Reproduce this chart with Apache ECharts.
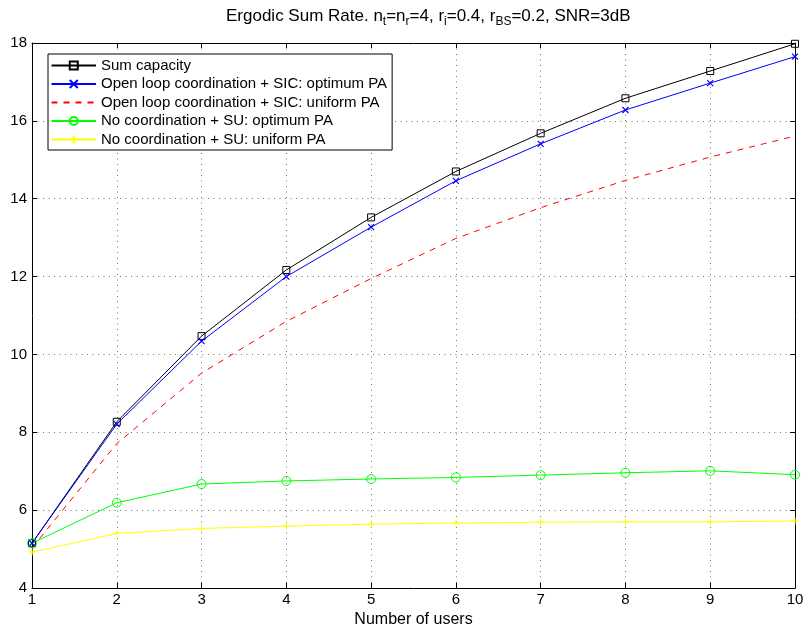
<!DOCTYPE html>
<html>
<head>
<meta charset="utf-8">
<script src="https://cdn.jsdelivr.net/npm/echarts@6/dist/echarts.min.js"></script>
<style>html,body{margin:0;padding:0;background:#fff}#c{width:805px;height:629px}</style>
</head>
<body>
<div id="c"></div>
<script>
var users = [1, 2, 3, 4, 5, 6, 7, 8, 9, 10];
var sumCapacity = [5.15, 8.27, 10.47, 12.17, 13.52, 14.70, 15.68, 16.58, 17.28, 17.98];
var openLoopOpt = [5.15, 8.21, 10.34, 12.00, 13.27, 14.46, 15.41, 16.28, 16.97, 17.65];
var openLoopUni = [5.03, 7.71, 9.52, 10.85, 11.95, 12.98, 13.77, 14.47, 15.07, 15.61];
var noCoordOpt = [5.15, 6.19, 6.67, 6.75, 6.80, 6.84, 6.90, 6.96, 7.01, 6.91];
var noCoordUni = [4.92, 5.40, 5.53, 5.59, 5.64, 5.67, 5.69, 5.70, 5.70, 5.72];
var yTicks = [4, 6, 8, 10, 12, 14, 16, 18];
var names = ['Sum capacity', 'Open loop coordination + SIC: optimum PA', 'Open loop coordination + SIC: uniform PA', 'No coordination + SU: optimum PA', 'No coordination + SU: uniform PA'];

function pairs(v) { return users.map(function (u, i) { return [u, v[i]]; }); }
var FONT = 'Liberation Sans, Arial, Helvetica, sans-serif';
var chart = echarts.init(document.getElementById('c'), null, {renderer: 'canvas'});
var gridLine = {show: true, lineStyle: {color: '#777', type: [1, 4.5], width: 1}};
var option = {
  animation: false,
  backgroundColor: '#fff',
  title: {
    left: 226, top: 4, padding: 0,
    text: '{a|Ergodic Sum Rate. n}{s|t}{a|=n}{s|r}{a|=4, r}{s|i}{a|=0.4, r}{s|BS}{a|=0.2, SNR=3dB}',
    textStyle: {
      fontWeight: 'normal',
      rich: {
        a: {fontFamily: FONT, fontSize: 17, fontWeight: 'normal', color: '#000', lineHeight: 24, verticalAlign: 'middle'},
        s: {fontFamily: FONT, fontSize: 12, fontWeight: 'normal', color: '#000', lineHeight: 8, verticalAlign: 'bottom'}
      }
    }
  },
  grid: {left: 32, right: 10, top: 43, bottom: 41, containLabel: false, outerBoundsMode: 'none'},
  legend: {
    orient: 'vertical', left: 48, top: 54,
    padding: [4, 5, 3, 2.5], itemGap: 3.5, itemWidth: 44.5, itemHeight: 10,
    borderColor: '#000', borderWidth: 1, backgroundColor: '#fff',
    textStyle: {fontFamily: FONT, fontSize: 15, color: '#000', lineHeight: 15},
    data: names
  },
  xAxis: [{
    type: 'value', min: 1, max: 10, interval: 1,
    name: 'Number of users', nameLocation: 'middle', nameGap: 24,
    nameTextStyle: {fontFamily: FONT, fontSize: 16, color: '#000'},
    axisLine: {show: true, lineStyle: {color: '#000', width: 1}},
    axisTick: {show: true, inside: true, length: 5, lineStyle: {color: '#000'}},
    axisLabel: {fontFamily: FONT, fontSize: 15, color: '#000', margin: 4},
    splitLine: gridLine
  }, {
    type: 'value', min: 1, max: 10, interval: 1, position: 'top',
    axisLine: {show: true, lineStyle: {color: '#000', width: 1}},
    axisTick: {show: true, inside: true, length: 5, lineStyle: {color: '#000'}},
    axisLabel: {show: false}, splitLine: {show: false}
  }],
  yAxis: [{
    type: 'value', min: yTicks[0], max: yTicks[yTicks.length - 1], interval: 2,
    axisLine: {show: true, lineStyle: {color: '#000', width: 1}},
    axisTick: {show: true, inside: true, length: 5, lineStyle: {color: '#000'}},
    axisLabel: {fontFamily: FONT, fontSize: 15, color: '#000', margin: 5},
    splitLine: gridLine
  }, {
    type: 'value', min: yTicks[0], max: yTicks[yTicks.length - 1], interval: 2, position: 'right',
    axisLine: {show: true, lineStyle: {color: '#000', width: 1}},
    axisTick: {show: true, inside: true, length: 5, lineStyle: {color: '#000'}},
    axisLabel: {show: false}, splitLine: {show: false}
  }],
  series: [{
    name: names[0], type: 'line', data: pairs(sumCapacity),
    symbol: 'rect', symbolSize: 7, showAllSymbol: true,
    lineStyle: {color: '#000', width: 1},
    itemStyle: {color: 'rgba(0,0,0,0)', borderColor: '#000', borderWidth: 1}
  }, {
    name: names[1], type: 'line', data: pairs(openLoopOpt),
    symbol: 'path://M0,0L10,10M10,0L0,10', symbolSize: 6,
    lineStyle: {color: '#0000ff', width: 1},
    itemStyle: {color: 'rgba(0,0,0,0)', borderColor: '#0000ff', borderWidth: 1.2}
  }, {
    name: names[2], type: 'line', data: pairs(openLoopUni),
    symbol: 'circle', showSymbol: false, symbolSize: 1,
    lineStyle: {color: '#ff0000', width: 1, type: [6, 6]},
    itemStyle: {color: 'rgba(0,0,0,0)', borderColor: 'rgba(0,0,0,0)', borderWidth: 0}
  }, {
    name: names[3], type: 'line', data: pairs(noCoordOpt),
    symbol: 'circle', symbolSize: 9,
    lineStyle: {color: '#00ff00', width: 1},
    itemStyle: {color: 'rgba(0,0,0,0)', borderColor: '#00ff00', borderWidth: 1}
  }, {
    name: names[4], type: 'line', data: pairs(noCoordUni),
    symbol: 'path://M5,0L5,10M0,5L10,5', symbolSize: 7,
    lineStyle: {color: '#ffff00', width: 1},
    itemStyle: {color: 'rgba(0,0,0,0)', borderColor: '#ffff00', borderWidth: 1}
  }]
};
chart.setOption(option);
</script>
</body>
</html>
